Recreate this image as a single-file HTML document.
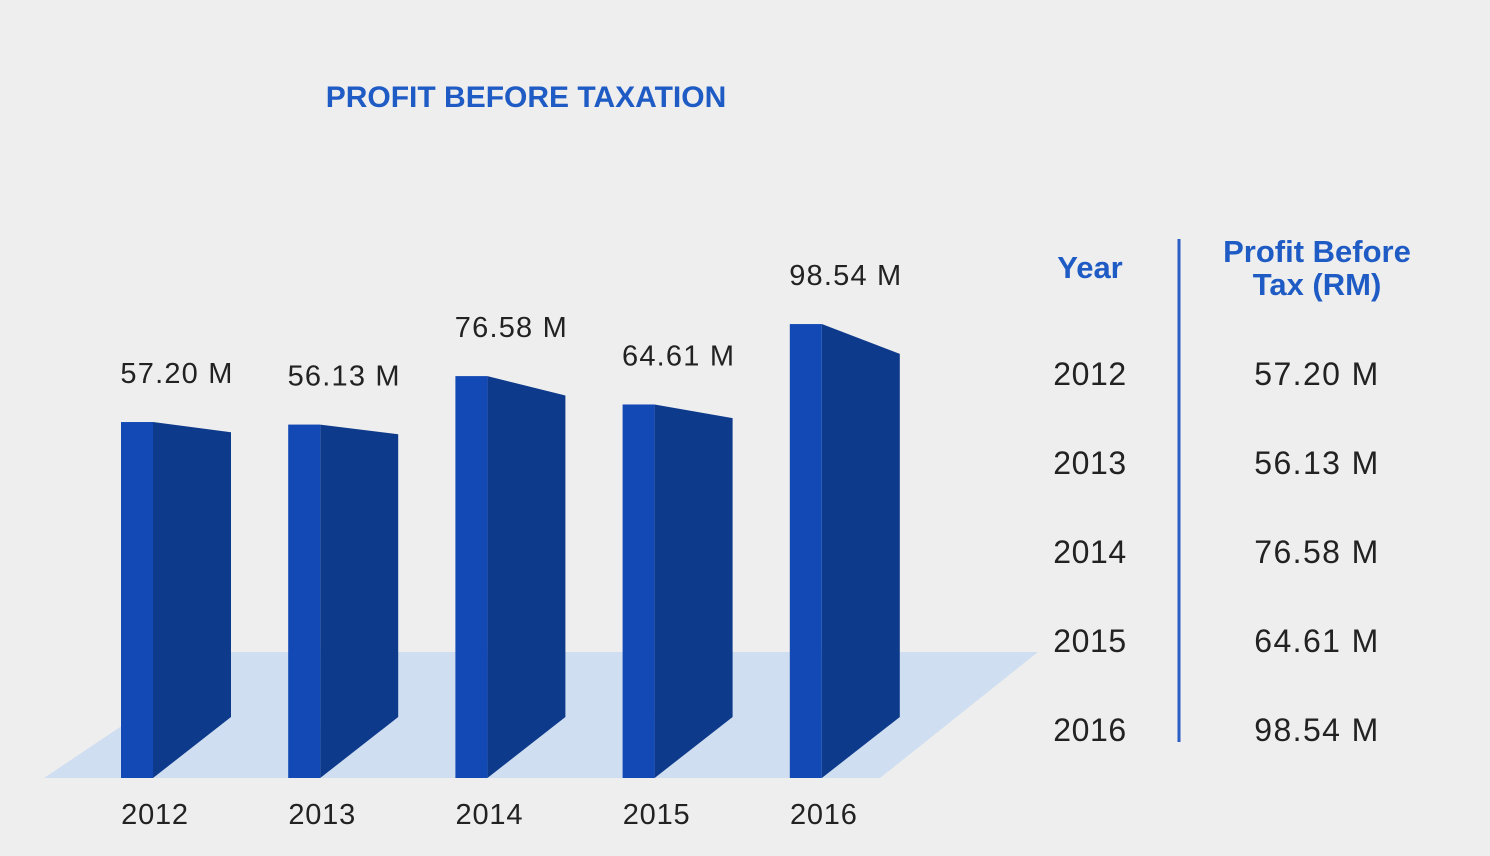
<!DOCTYPE html>
<html><head><meta charset="utf-8"><style>
html,body{margin:0;padding:0;background:#eeeeee;}
svg{display:block;font-family:"Liberation Sans",sans-serif;}
</style></head><body>
<svg width="1490" height="856" viewBox="0 0 1490 856">
<rect width="1490" height="856" fill="#eeeeee"/>
<text x="526" y="107" text-anchor="middle" font-size="30" font-weight="bold" fill="#1f5bc4">PROFIT BEFORE TAXATION</text>
<polygon points="44,778 880,778 1038,652 232,652" fill="#cfdef0"/>
<g id="bars"></g>
<g id="table">
<text x="1090" y="278" text-anchor="middle" font-size="31" font-weight="bold" fill="#1f5bc4">Year</text>
<text x="1317" y="262" text-anchor="middle" font-size="31" font-weight="bold" fill="#1f5bc4">Profit Before</text>
<text x="1317" y="295" text-anchor="middle" font-size="31" font-weight="bold" fill="#1f5bc4">Tax (RM)</text>
<line x1="1179" y1="239" x2="1179" y2="742" stroke="#2b5fc4" stroke-width="3"/>
</g>
</svg>
<script>
const categories = ["2012","2013","2014","2015","2016"];
const values = [57.20, 56.13, 76.58, 64.61, 98.54];
const valueLabels = ["57.20 M","56.13 M","76.58 M","64.61 M","98.54 M"];
const NS="http://www.w3.org/2000/svg";
const baseY=778, x0=121, step=167.2, fw=32, dx=78, dy=61;
function yScale(v){ return baseY - (220.4 + v*2.37); }
function xScale(i){ return x0 + i*step; }
const g=document.getElementById('bars');
const tg=document.getElementById('table');
function mk(tag,attrs,parent){const e=document.createElementNS(NS,tag);for(const k in attrs)e.setAttribute(k,attrs[k]);parent.appendChild(e);return e;}
categories.forEach((c,i)=>{
  const x=xScale(i), top=yScale(values[i]), h=baseY-top;
  const backTop=(baseY-dy)-h*0.8;
  const side=mk('polygon',{points:`${x+fw},${top} ${x+fw+dx},${backTop} ${x+fw+dx},${baseY-dy} ${x+fw},${baseY}`,fill:'#0e3a8c'},g);
  
  
  const front=mk('rect',{x:x,y:top,width:fw,height:h,fill:'#1249b5'},g);
  
  
  const lbl=mk('text',{x:x+56,y:top-39,'text-anchor':'middle','font-size':29,'letter-spacing':1.2,fill:'#222'},g);
  lbl.textContent=valueLabels[i];
  
  
  const yl=mk('text',{x:x+34,y:824,'text-anchor':'middle','font-size':29,'letter-spacing':0.8,fill:'#222'},g);
  yl.textContent=c;
  
  
  const ty=385+i*89;
  const t1=mk('text',{x:1090,y:ty,'text-anchor':'middle','font-size':32,'letter-spacing':0.6,fill:'#222'},tg);
  t1.textContent=c;
  
  
  const t2=mk('text',{x:1317,y:ty,'text-anchor':'middle','font-size':32,'letter-spacing':1.4,fill:'#222'},tg);
  t2.textContent=valueLabels[i];
  
  
});
</script>
</body></html>
